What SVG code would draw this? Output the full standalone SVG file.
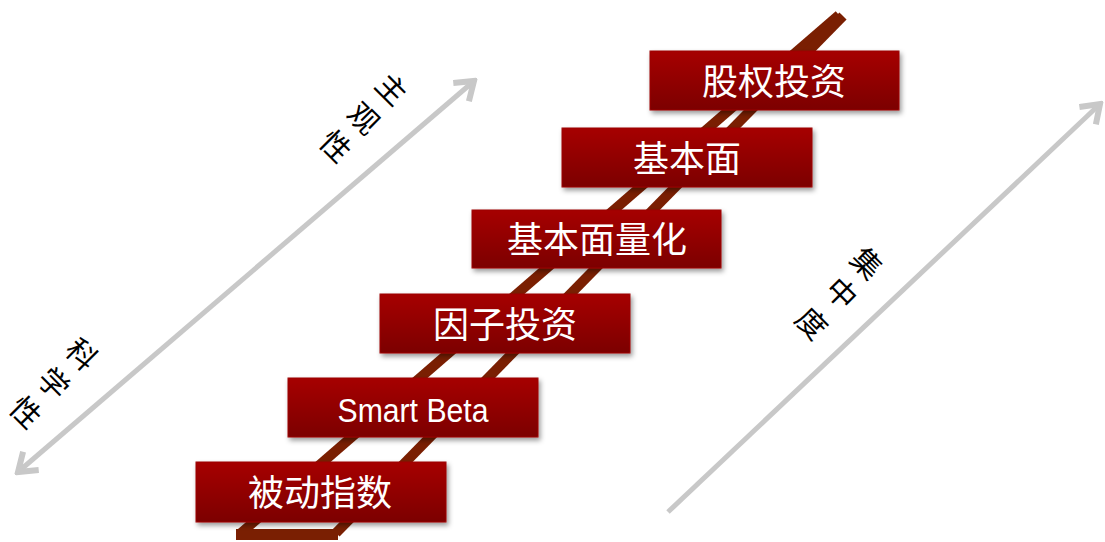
<svg xmlns="http://www.w3.org/2000/svg" width="1105" height="542" viewBox="0 0 1105 542">
<style>
.box{fill:url(#redGrad);stroke:#9c0a0a;stroke-width:1;filter:url(#shadow)}
.lbl{font-family:"Noto Sans CJK SC","Liberation Sans",sans-serif;font-size:36px;fill:#ffffff;text-anchor:middle}
.lat{font-family:"Liberation Sans","Noto Sans",sans-serif;font-size:34px;fill:#ffffff;text-anchor:middle}
.side{font-family:"Noto Sans CJK SC",sans-serif;font-size:30px;fill:#000000;text-anchor:middle;dominant-baseline:central}
.rail{stroke:#7a1f02;stroke-width:10;fill:none;stroke-linecap:butt}
.arrow{stroke:#c8c8c8;stroke-width:5;fill:none}
</style>
<defs>
<linearGradient id="redGrad" x1="0" y1="0" x2="0" y2="1">
<stop offset="0" stop-color="#a60000"/>
<stop offset="1" stop-color="#7c0000"/>
</linearGradient>
<filter id="shadow" x="-10%" y="-20%" width="125%" height="150%">
<feDropShadow dx="2" dy="3" stdDeviation="2.5" flood-color="#000" flood-opacity="0.4"/>
</filter>
<marker id="head" markerUnits="userSpaceOnUse" viewBox="-24 -14 28 28" refX="0" refY="0" markerWidth="28" markerHeight="28" orient="auto-start-reverse">
<path d="M -17 -12 L 0 0 L -17 12" fill="none" stroke="#c8c8c8" stroke-width="6" stroke-linejoin="miter"/>
</marker>
</defs>
<rect width="1105" height="542" fill="#ffffff"/>
<g id="ladder">
<line class="rail" x1="241" y1="533" x2="839" y2="15"/>
<line class="rail" x1="336" y1="533" x2="843" y2="16"/>
<rect x="236" y="529" width="102" height="11" fill="#7a1f02"/>
</g>
<g id="connectors">
<line class="arrow" x1="18" y1="472" x2="474" y2="81" marker-start="url(#head)" marker-end="url(#head)"/>
<line class="arrow" x1="668" y1="512" x2="1100" y2="104" marker-end="url(#head)"/>
</g>
<g id="node-guquan">
<rect class="box" x="650" y="51" width="249" height="59"/>
<text class="lbl" x="774" y="95">股权投资</text>
</g>
<g id="node-jibenmian">
<rect class="box" x="562" y="128" width="250" height="59"/>
<text class="lbl" x="687" y="172">基本面</text>
</g>
<g id="node-lianghua">
<rect class="box" x="472" y="210" width="249" height="58"/>
<text class="lbl" x="597" y="253">基本面量化</text>
</g>
<g id="node-yinzi">
<rect class="box" x="380" y="294" width="250" height="59"/>
<text class="lbl" x="505" y="338">因子投资</text>
</g>
<g id="node-smartbeta">
<rect class="box" x="288" y="378" width="250" height="59"/>
<text class="lat" x="413" y="422" textLength="151" lengthAdjust="spacingAndGlyphs">Smart Beta</text>
</g>
<g id="node-beidong">
<rect class="box" x="196" y="462" width="250" height="60"/>
<text class="lbl" x="320" y="506">被动指数</text>
</g>
<g id="label-zhuguan">
<text class="side" transform="translate(393,88) rotate(45)">主</text>
<text class="side" transform="translate(365,117) rotate(45)">观</text>
<text class="side" transform="translate(337,145) rotate(45)">性</text>
</g>
<g id="label-kexue">
<text class="side" transform="translate(83,353) rotate(45)">科</text>
<text class="side" transform="translate(55,382) rotate(45)">学</text>
<text class="side" transform="translate(27,411) rotate(45)">性</text>
</g>
<g id="label-jizhong">
<text class="side" transform="translate(868,262) rotate(45)">集</text>
<text class="side" transform="translate(843,292) rotate(45)">中</text>
<text class="side" transform="translate(813,322) rotate(45)">度</text>
</g>
</svg>
